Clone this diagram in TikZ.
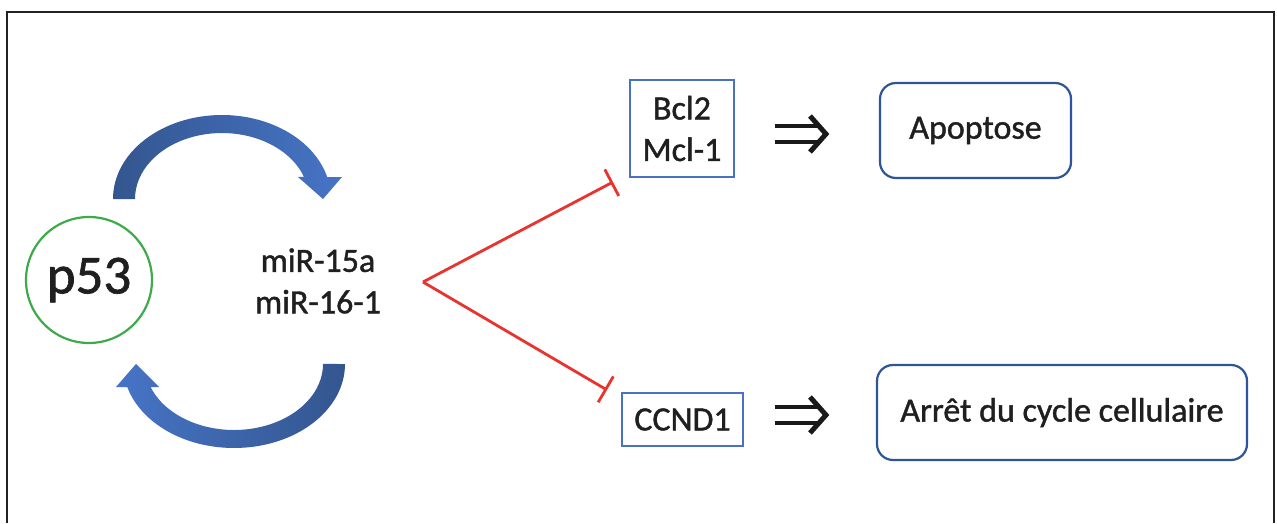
\documentclass[tikz,border=0pt]{standalone}
\usepackage{fontspec}
\setmainfont[FakeBold=1.2]{Carlito}
\usetikzlibrary{arrows.meta,calc}
\definecolor{frameC}{HTML}{222222}
\definecolor{greenC}{HTML}{3FAA4B}
\definecolor{boxblue}{HTML}{4A72C0}
\definecolor{rbblue}{HTML}{2F5597}
\definecolor{redC}{HTML}{E8342E}
\definecolor{arrL}{HTML}{4674C6}
\definecolor{arrD}{HTML}{34568F}
\begin{document}
\begin{tikzpicture}[x=1pt,y=1pt,
  txt/.style={font=\fontsize{34}{41.5}\selectfont, text=black!88, align=center, inner sep=0pt},
  sqbox/.style={txt, draw=boxblue, line width=1.5pt},
  rbox/.style={txt, draw=rbblue, line width=2.2pt, rounded corners=16pt},
  inhib/.style={draw=redC, line width=2.8pt, -{Bar[width=30pt]}},
  impl/.pic={\draw[black!90, line width=4.5pt] (0,8) -- (44,8) (0,-8) -- (44,-8);
             \draw[black!90, line width=5pt, miter limit=10] (35,18) -- (51,0) -- (35,-18);}
]
\useasboundingbox (0,0) rectangle (1277,523);
\fill[white] (0,0) rectangle (1277,523);
\draw[frameC, line width=2.5pt] (7,0) -- (7,511) -- (1274,511) -- (1274,0);

% p53 and miRNA
\node[circle, draw=greenC, line width=2.2pt, minimum size=126pt, inner sep=0pt, text=black!88,
      font=\fontsize{55}{60}\selectfont] (p53) at (89,243) {\raisebox{-5pt}{p53}};
\node[txt] (mir) at (318,242) {miR-15a\\miR-16-1};

% curved feedback arrows
\shade[left color=arrD, right color=arrL]
  (113,324) arc[start angle=180,end angle=15,x radius=109,y radius=84]
  -- (342,346) -- (323,324) -- (298,346) -- (304,346)
  arc[start angle=19.5,end angle=180,x radius=87,y radius=66] -- cycle;
\shade[left color=arrL, right color=arrD]
  (345,159) arc[start angle=0,end angle=-164.1,x radius=111,y radius=84]
  -- (116,136) -- (136,159) -- (159,136) -- (150.6,136)
  arc[start angle=-159.6,end angle=0,x radius=89,y radius=66] -- cycle;

% targets
\node[sqbox, minimum width=104pt, minimum height=97pt] (bcl) at (682,394.5) {Bcl2\\Mcl-1};
\node[sqbox, minimum width=121pt, minimum height=53pt] (ccnd) at (682.5,103.5) {CCND1};
\node[rbox, minimum width=191pt, minimum height=95pt] (apop) at (975.5,392.5) {Apoptose};
\node[rbox, minimum width=370pt, minimum height=95pt] (arret) at (1062,110.5) {Arrêt du cycle cellulaire};

% inhibition
\coordinate (fork) at (423,241);
\coordinate (tb) at (613,341);
\coordinate (tc) at (607,133);
\draw[inhib] (fork) -- (tb);
\draw[inhib] (fork) -- (tc);

% implication arrows
\pic at (775,389) {impl};
\pic at (775,108) {impl};
\end{tikzpicture}
\end{document}
